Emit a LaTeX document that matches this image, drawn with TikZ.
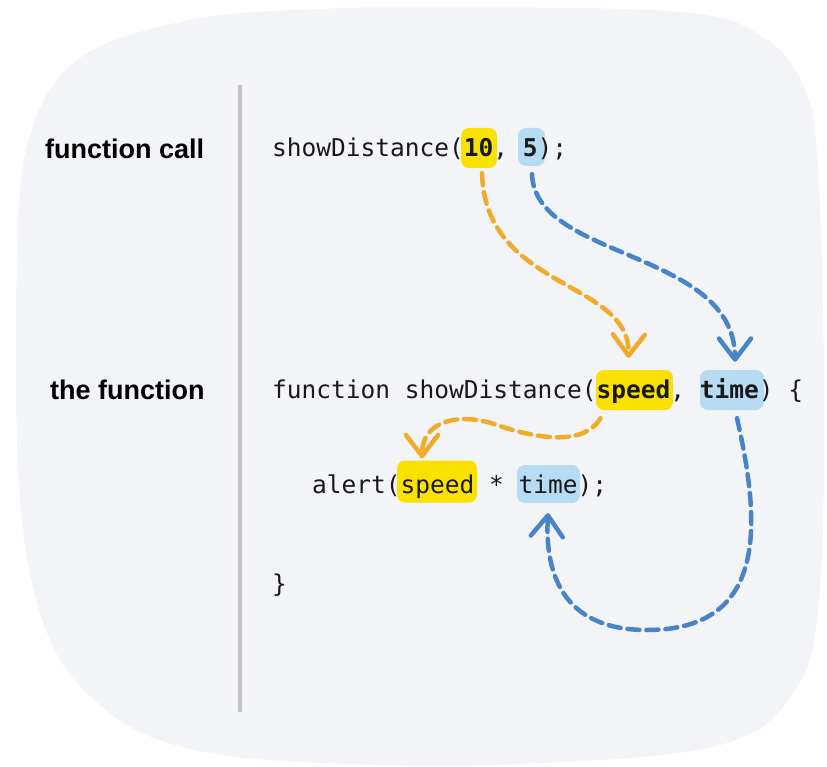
\documentclass[tikz,border=0pt]{standalone}
\usepackage{fontspec}
\setmainfont{Liberation Sans}
\newfontfamily\codefont{DejaVu Sans Mono}
\usetikzlibrary{arrows.meta}
\definecolor{blobbg}{RGB}{242,244,247}
\definecolor{divider}{RGB}{196,196,198}
\definecolor{hlyellow}{RGB}{250,225,0}
\definecolor{hlblue}{RGB}{182,220,244}
\definecolor{arrorange}{RGB}{242,170,43}
\definecolor{arrblue}{RGB}{72,132,200}
\tikzset{
  label/.style={font=\fontsize{27}{30}\selectfont\bfseries, anchor=base west, inner sep=0pt},
  code/.style={font=\codefont\fontsize{24.5}{30}\selectfont, anchor=base west, inner sep=0pt, text=black!90},
  hly/.style={fill=hlyellow, rounded corners=8pt, inner sep=0pt, draw=none},
  hlb/.style={fill=hlblue, rounded corners=8pt, inner sep=0pt, draw=none},
  flow/.style={line width=4.5pt, dash pattern=on 12pt off 7pt, line cap=round,
    -{Straight Barb[length=21pt,width=32pt,line width=4.5pt,round]}},
}
\begin{document}
\begin{tikzpicture}[x=1pt,y=-1pt]
\useasboundingbox (0,0) rectangle (827,767);
\fill[white] (0,0) rectangle (827,767);
% background blob
\fill[blobbg] plot[smooth cycle, tension=0.6] coordinates {
 (460,7) (680,12) (760,35) (803,85) (818,170) (824,400) (819,600)
 (795,690) (720,745) (520,764) (300,762) (175,745) (100,705) (48,635)
 (20,500) (17,260) (30,135) (80,58) (190,20) (320,9)};
% divider
\draw[divider, line width=4pt] (240,85) coordinate (d1) -- (240,712) coordinate (d2);
% labels
\node[label] (lcall) at (45,159) {function call};
\node[label] (lfunc) at (50,399) {the function};
% highlight boxes
\node[hly, minimum width=36pt, minimum height=40pt] (n10) at (479,148) {};
\node[hlb, minimum width=27pt, minimum height=38pt] (n5) at (531.5,147) {};
\node[hly, minimum width=77pt, minimum height=40pt] (pspeed) at (634.5,390) {};
\node[hlb, minimum width=64pt, minimum height=40pt] (ptime) at (732,390) {};
\node[hly, minimum width=80pt, minimum height=42pt] (aspeed) at (437,481.5) {};
\node[hlb, minimum width=63pt, minimum height=38pt] (atime) at (548.5,484) {};
% code
\node[code] (c1) at (272,157) {showDistance(\textbf{10}, \textbf{5});};
\node[code] (c2) at (272,398) {function showDistance(\textbf{speed}, \textbf{time}) \{};
\node[code] (c3) at (312,493) {alert(speed * time);};
\node[code] (c4) at (272,592) {\}};
% connectors
\draw[flow, arrorange] ([xshift=3pt,yshift=-5pt]n10.south) .. controls (485,290) and (630,280) .. ([xshift=-6pt,yshift=12pt]pspeed.north);
\draw[flow, arrblue] ([xshift=0.5pt,yshift=-8pt]n5.south) .. controls (535,260) and (735,250) .. ([xshift=3pt,yshift=8pt]ptime.north);
\draw[flow, arrorange] ([xshift=-34pt,yshift=-8pt]pspeed.south) .. controls (585,445) and (540,440) .. (497,425) .. controls (460,412) and (422,420) .. ([xshift=-15pt,yshift=2pt]aspeed.north);
\draw[flow, arrblue] ([xshift=5pt,yshift=-8pt]ptime.south) .. controls (760,520) and (770,630) .. (647,630) .. controls (560,630) and (545,570) .. ([xshift=-0.5pt,yshift=-10pt]atime.south);
\end{tikzpicture}
\end{document}
